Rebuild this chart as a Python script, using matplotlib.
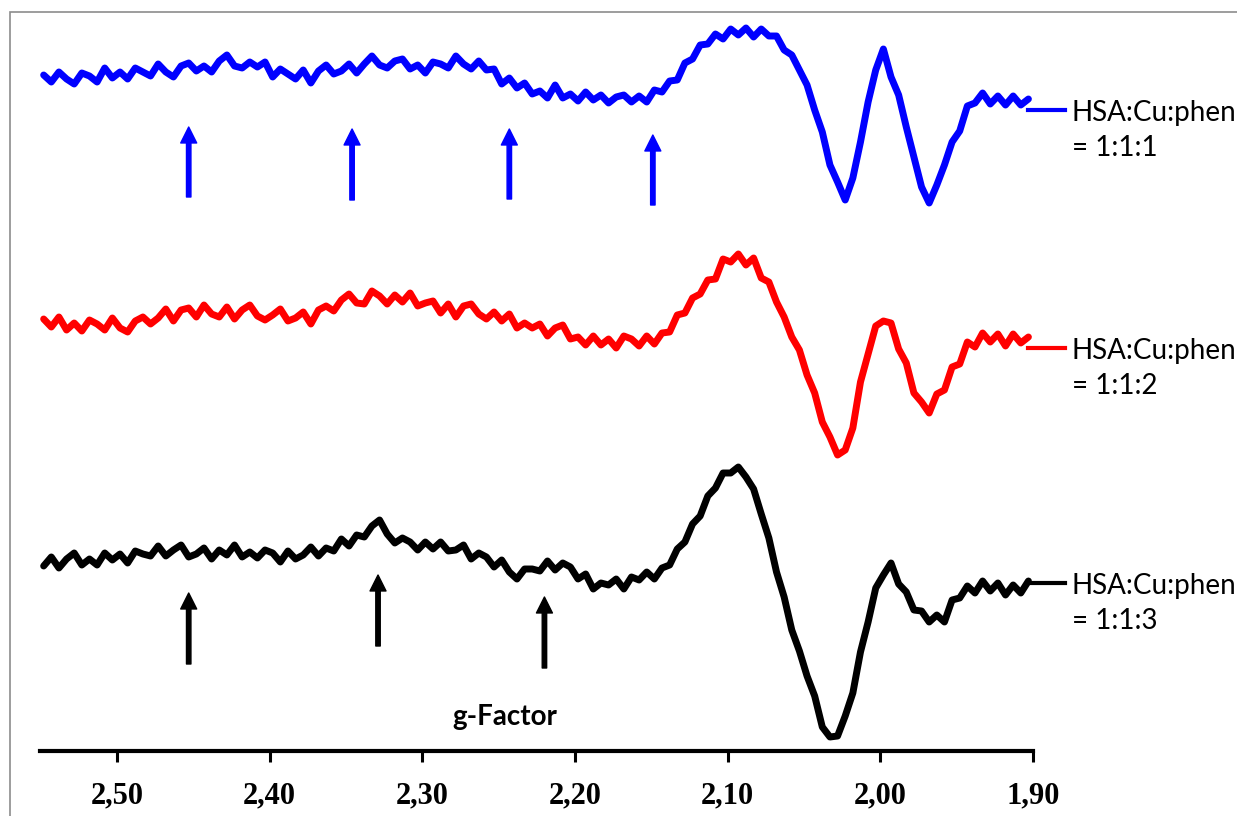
import matplotlib
matplotlib.use("Agg")
import matplotlib.pyplot as plt
from matplotlib.patches import Rectangle
import numpy as np

# g-factor sweep (high -> low), one point per 0.005
g_start, g_stop = 2.548, 1.903

# EPR signals (a.u.), relative to each trace baseline
sig_111 = [25, 18, 28, 21, 16, 27, 24, 18, 32, 22, 28, 21, 32, 28, 24, 36, 28, 23, 34, 37,
           29, 34, 28, 39, 45, 34, 32, 38, 33, 38, 23, 31, 26, 21, 30, 17, 29, 35, 26, 29,
           36, 27, 36, 44, 35, 32, 39, 41, 31, 35, 27, 38, 36, 32, 44, 36, 31, 39, 30, 31,
           16, 22, 12, 17, 6, 9, 2, 15, 2, 6, -1, 8, 0, 5, -3, 3, 5, -2, 4, -2,
           10, 8, 19, 20, 37, 41, 55, 56, 66, 61, 71, 65, 72, 63, 71, 64, 64, 50, 45, 30,
           15, -10, -32, -65, -82, -100, -78, -42, -2, 30, 51, 23, 5, -27, -57, -87, -103, -85, -65, -42,
           -31, -6, -3, 7, -4, 4, -5, 4, -5, 1]
sig_112 = [21, 13, 23, 10, 17, 9, 20, 16, 10, 22, 12, 8, 19, 23, 16, 22, 31, 19, 30, 32,
           23, 35, 26, 23, 33, 21, 30, 35, 24, 20, 25, 31, 19, 22, 28, 16, 30, 34, 29, 40,
           46, 37, 36, 49, 44, 36, 45, 38, 47, 34, 37, 39, 27, 36, 23, 34, 36, 26, 21, 28,
           19, 26, 12, 17, 12, 16, 4, 12, 15, 1, 3, -5, 4, -5, 1, -8, 4, 1, -6, 4,
           -4, 7, 8, 25, 27, 42, 46, 60, 61, 81, 78, 86, 75, 82, 62, 58, 38, 23, 3, -10,
           -35, -53, -82, -97, -115, -110, -88, -42, -14, 14, 19, 17, -9, -23, -53, -62, -73, -54, -50, -27,
           -24, -2, -7, 7, -2, 6, -6, 6, -3, 3]
sig_113 = [22, 31, 20, 29, 35, 23, 29, 23, 35, 28, 34, 25, 37, 34, 32, 42, 32, 38, 43, 31,
           34, 40, 29, 38, 33, 43, 31, 36, 30, 38, 35, 26, 37, 29, 33, 41, 32, 40, 37, 49,
           42, 53, 51, 62, 68, 54, 45, 50, 46, 38, 46, 39, 46, 37, 38, 43, 29, 35, 31, 21,
           28, 16, 9, 19, 19, 17, 27, 18, 25, 21, 9, 14, -1, 5, 3, 9, -1, 11, 8, 16,
           9, 20, 23, 39, 46, 64, 72, 92, 100, 115, 115, 121, 111, 99, 74, 50, 16, -9, -42, -63,
           -88, -108, -139, -149, -148, -128, -105, -64, -34, 0, 13, 25, 4, -4, -22, -23, -34, -27, -34, -12,
           -10, 2, -5, 7, -3, 5, -7, 3, -5, 7]

label_top = ["HSA:Cu:phen", "HSA:Cu:phen", "HSA:Cu:phen"]
label_bottom = ["= 1:1:1", "= 1:1:2", "= 1:1:3"]
colors = ["#0000FF", "#FF0000", "#000000"]
offsets = [651, 411, 163]
label_y = [641, 403, 168]

# arrows marking hyperfine lines: g position, tip and tail height
arrows_111 = [2.453, 2.346, 2.243, 2.149]
arrows_113 = [2.453, 2.329, 2.220]
arrow_tip_111 = [624, 622, 622, 616]
arrow_tail_111 = [554, 551, 552, 546]
arrow_tip_113 = [158, 176, 154]
arrow_tail_113 = [87, 105, 83]

xticks = [2.50, 2.40, 2.30, 2.20, 2.10, 2.00, 1.90]

W, H = 1237, 816
fig = plt.figure(figsize=(W / 100, H / 100), dpi=100)
fig.patch.set_facecolor("white")
ax = fig.add_axes([40 / W, 65 / H, (1033 - 40) / W, 739 / H])

for sig, col, off in zip([sig_111, sig_112, sig_113], colors, offsets):
    g = np.linspace(g_start, g_stop, len(sig))
    ax.plot(g, np.array(sig) + off, color=col, lw=5.0, solid_joinstyle="round",
            solid_capstyle="round", zorder=3)

ax.set_xlim(2.5504, 1.90)
ax.set_ylim(0, 739)

# series labels at the right end
for col, ly, t1, t2 in zip(colors, label_y, label_top, label_bottom):
    ax.plot([1.903, 1.8792], [ly, ly], color=col, lw=3.0, clip_on=False)
    ax.text(1.8745, ly - 3, t1, ha="left", va="center", fontsize=20,
            family="Lato", color="#000000")
    ax.text(1.8745, ly - 38, t2, ha="left", va="center", fontsize=20,
            family="Lato", color="#000000")

for gx, tip, tail in zip(arrows_111, arrow_tip_111, arrow_tail_111):
    ax.annotate("", xy=(gx, tip), xytext=(gx, tail),
                arrowprops=dict(color=colors[0], width=3.2, headwidth=11.5, headlength=11.5, shrink=0))
for gx, tip, tail in zip(arrows_113, arrow_tip_113, arrow_tail_113):
    ax.annotate("", xy=(gx, tip), xytext=(gx, tail),
                arrowprops=dict(color=colors[2], width=3.2, headwidth=11.5, headlength=11.5, shrink=0))

ax.text(2.2459, 34, "g-Factor", ha="center", va="center", fontsize=20,
        family="Lato", fontweight="bold")

for s in ["top", "left", "right"]:
    ax.spines[s].set_visible(False)
ax.spines["bottom"].set_linewidth(3.0)
ax.spines["bottom"].set_color("black")
ax.set_yticks([])
ax.set_xticks(xticks)
ax.set_xticklabels([f"{t:.2f}".replace(".", ",") for t in xticks],
                   family="Liberation Serif", fontweight="bold", fontsize=22)
ax.tick_params(axis="x", direction="out", length=8, width=2.2, pad=14, color="black")
ax.patch.set_alpha(0)

# chart area frame
fig.add_artist(Rectangle((10 / W, -0.1), 1.2, (H - 12) / H + 0.1, transform=fig.transFigure,
                         fill=False, edgecolor="#8c8c8c", lw=1.2))

fig.savefig("out.png", dpi=100, facecolor="white")
